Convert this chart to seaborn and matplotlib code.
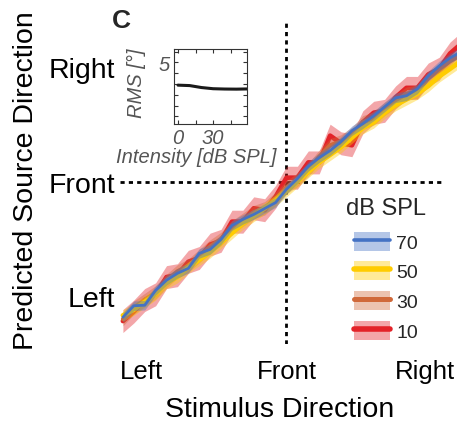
import numpy as np
import pandas as pd
import matplotlib
matplotlib.use("Agg")
import matplotlib.pyplot as plt
from matplotlib.patches import Patch
from matplotlib.lines import Line2D
from matplotlib.legend_handler import HandlerTuple
from matplotlib.ticker import FixedLocator, FuncFormatter
import seaborn as sns

sns.set_theme(style="white")
plt.rcParams["font.family"] = ["Liberation Sans", "DejaVu Sans"]

# Stimulus azimuth (deg) and mean predicted azimuth per sound level
stim_deg = [-67.5, -63, -58.5, -54, -49.5, -45, -40.5, -36, -31.5, -27, -22.5,
            -18, -13.5, -9, -4.5, 0, 4.5, 9, 13.5, 18, 22.5, 27, 31.5, 36,
            40.5, 45, 49.5, 54, 58.5, 63, 67.5, 72]
pred_10 = [-73, -68, -62, -59, -50, -49, -42, -40, -33, -31, -21, -21, -14,
           -15, -8, 2, 2, 10, 10, 24, 20, 19, 31, 36, 37, 44, 49, 49, 56, 59,
           67, 72]
pred_30 = [-72, -66, -62, -58, -52, -47, -44, -39, -34, -30, -24, -20, -16,
           -14, -9, -3, 1, 6, 13, 19, 21, 25, 31, 33, 38, 42, 46, 47, 54, 58,
           63, 66]
pred_50 = [-70, -67, -63, -59, -53, -50, -45, -41, -37, -32, -27, -22, -18,
           -14, -10, -5, 0, 5, 10, 14, 18, 23, 28, 31, 36, 40, 43, 46, 50, 55,
           59, 63]
pred_70 = [-71, -65, -64.7, -57, -51.6, -48, -45.4, -37.6, -35.5, -30.3, -23,
           -19.8, -17.2, -14.1, -11, -4, 1.5, 8, 12.5, 16.2, 20.9, 26.6, 30.3,
           34.4, 39.1, 43.8, 44.9, 48.5, 55.3, 60.5, 64.7, 67.8]
# half-width of the shaded band (deg) per level
err_10, err_30, err_50, err_70 = 6.0, 3.5, 3.0, 2.5

levels = ["70", "50", "30", "10"]
colors = {"70": "#4472C4", "50": "#FFCC00", "30": "#D0693A", "10": "#E32228"}
widths = {"70": 2.0, "50": 3.4, "30": 3.0, "10": 3.4}
preds = {"70": pred_70, "50": pred_50, "30": pred_30, "10": pred_10}
errs = {"70": err_70, "50": err_50, "30": err_30, "10": err_10}

# Inset: localisation error vs. intensity
intensity = [0, 10, 20, 30, 40, 50, 60]
rms = [2.90, 2.86, 2.68, 2.57, 2.54, 2.53, 2.55]

xtick_pos = [-60, 0, 57]
ytick_pos = [-60, 0, 60]
tick_lab = ["Left", "Front", "Right"]

W, H = 457, 427
fig = plt.figure(figsize=(W / 100, H / 100), dpi=100)

# main axes
ax = fig.add_axes([120 / W, 1 - 345 / H, 325 / W, 323 / H])
ax.set_xlim(-68.7, 65.4)
ax.set_ylim(-85, 84)
for s in ax.spines.values():
    s.set_visible(False)

ax.axvline(0, color="black", lw=2.0, ls=(0, (1.5, 1.5)), zorder=1)
ax.axhline(0, color="black", lw=2.0, ls=(0, (1.5, 1.5)), zorder=1)

z = 2
for lev in ["10", "30", "50", "70"]:
    y = np.array(preds[lev], dtype=float)
    e = errs[lev]
    ax.fill_between(stim_deg, y - e, y + e, color=colors[lev], alpha=0.4,
                    lw=0, clip_on=False, zorder=z)
    df = pd.DataFrame({"stim": stim_deg, "pred": y})
    sns.lineplot(data=df, x="stim", y="pred", color=colors[lev],
                 lw=widths[lev], ax=ax, clip_on=False, zorder=z + 1)
    z += 2

ax.set_xticks(xtick_pos)
ax.set_xticklabels(tick_lab)
ax.set_yticks(ytick_pos)
ax.set_yticklabels(tick_lab)
ax.tick_params(axis="both", length=0, colors="black")
ax.tick_params(axis="x", pad=11, labelsize=18.5)
ax.tick_params(axis="y", pad=3.5, labelsize=20.5)
ax.set_xlabel("Stimulus Direction", fontsize=20.5, color="black")
ax.set_ylabel("Predicted Source Direction", fontsize=20.5, color="black")
ax.xaxis.set_label_coords(0.49, -0.1625)
ax.yaxis.set_label_coords(-0.249, 0.508)

# legend
handles = []
for lev in levels:
    handles.append((Patch(facecolor=colors[lev], alpha=0.4, lw=0),
                    Line2D([], [], color=colors[lev], lw=widths[lev] + 0.6)))
leg = fig.legend(handles, levels, title="dB SPL", loc="upper left",
                 bbox_to_anchor=(346 / W, 1 - 198 / H), frameon=False,
                 fontsize=14, title_fontsize=17, borderpad=0,
                 borderaxespad=0, handlelength=1.85, handleheight=1.13,
                 labelspacing=0.5, handletextpad=0.3,
                 handler_map={tuple: HandlerTuple(ndivide=1, pad=0)})
leg._legend_box.align = "center"
leg._legend_box.sep = 9

# panel letter
fig.text(112 / W, 1 - 28 / H, "C", fontsize=19, fontweight="bold",
         va="baseline", ha="left")

# inset
ins = fig.add_axes([174 / W, 1 - 125 / H, 73 / W, 75 / H])
sns.lineplot(x=intensity, y=rms, color="#1a1a1a", lw=2.2, ax=ins)
ins.set_xlim(-3.4, 59)
ins.set_ylim(-0.7, 6.25)
ins.xaxis.set_major_locator(FixedLocator([0, 15, 30, 45]))
ins.yaxis.set_major_locator(FixedLocator([0, 1, 2, 3, 4, 5, 6]))
ins.xaxis.set_major_formatter(FuncFormatter(lambda v, p: f"{v:g}" if v in (0, 30) else ""))
ins.yaxis.set_major_formatter(FuncFormatter(lambda v, p: f"{v:g}" if v == 5 else ""))
ins.tick_params(direction="in", length=3, width=0.8, color="#333333",
                top=True, right=True, bottom=True, left=True,
                labelsize=14.5, labelcolor="#555555", pad=3)
for lab in ins.get_xticklabels() + ins.get_yticklabels():
    lab.set_fontstyle("italic")
for s in ins.spines.values():
    s.set_visible(True)
    s.set_color("#333333")
    s.set_linewidth(0.8)
ins.set_xlabel("Intensity [dB SPL]", fontsize=14.5, style="italic",
               color="#555555")
ins.set_ylabel("RMS [°]", fontsize=14.5, style="italic", color="#555555")
ins.xaxis.set_label_coords(0.30, -0.307)
ins.yaxis.set_label_coords(-0.377, 0.56)

fig.savefig("out.png", dpi=100)
